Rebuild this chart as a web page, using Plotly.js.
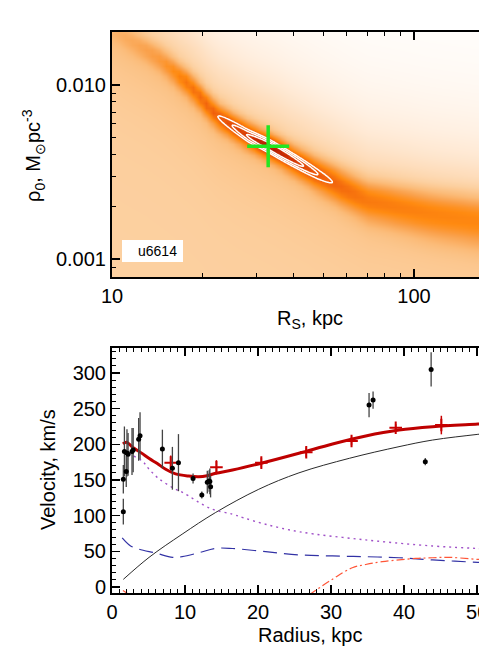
<!DOCTYPE html>
<html>
<head>
<meta charset="utf-8">
<script src="https://cdn.plot.ly/plotly-3.0.1.min.js"></script>
<style>
  html, body { margin: 0; padding: 0; background: #ffffff; overflow: hidden; }
  #chart { width: 520px; height: 664px; }
</style>
</head>
<body>
<div id="chart"></div>
<script>
// ---------------- Top panel: likelihood map (log Rs, log rho0) ----------------
// ridge of the map
const ridgeLogRs  = [1.00, 1.15, 1.25, 1.35, 1.45, 1.52, 1.60, 1.68, 1.84, 2.06, 2.22, 2.34];
const ridgeLogRho = [-1.68, -1.84, -1.99, -2.18, -2.29, -2.35, -2.43, -2.51, -2.66, -2.74, -2.78, -2.80];
const ridgePeak   = [0.48, 0.58, 0.73, 0.80, 0.90, 1.00, 0.90, 0.80, 0.71, 0.68, 0.67, 0.66];
const ridgeWidth  = [0.06, 0.065, 0.07, 0.07, 0.07, 0.07, 0.075, 0.09, 0.11, 0.13, 0.14, 0.14];
const levelBelowRidge = 0.33;
const levelAboveRidge = 0.46;

// best fit and confidence contours
const bestRs  = [32.9];
const bestRho = [0.00446];
const fitLogRs = 1.54;
const fitAlongHalf = 0.095;
const fitAcrossHalf = 0.02;
const contourLevels = [1, 1.5, 2];

const galaxyName = 'u6614';

// ---------------- Bottom panel: rotation curve ----------------
const obsRadius = [1.55, 1.55, 1.7, 1.95, 2.05, 2.2, 2.74, 2.9, 3.65, 3.84, 6.9, 8.27, 9.1, 11.1, 12.3, 13.05, 13.3, 13.4, 13.5, 35.2, 35.75, 42.9, 43.7];
const obsVel    = [105.6, 151, 190, 162, 188, 186, 190, 192, 207, 212, 193.5, 166.4, 174.3, 152, 129, 147, 148.5, 148, 140.6, 255, 262, 175.7, 305];
const obsErr    = [18, 20, 35, 22, 33, 30, 33, 31, 30, 33, 27, 30, 40, 7, 5, 16, 15, 18, 15, 17, 12, 5, 24];

const binRadius = [8.04, 14.3, 20.45, 26.6, 32.8, 38.85, 45.1];
const binVel    = [174.3, 167.8, 174.3, 188.8, 204.7, 223.3, 227];
const binErr    = [10, 10, 7, 7, 6, 5, 13];

const totR = [1.5, 2.0, 2.8, 4.0, 5.1, 6.2, 7.35, 8.7, 10.5, 11.9, 13.0, 14.2, 16.5, 20.45, 25.6, 30.2, 34.75, 39.3, 43.9, 50.1, 54.5];
const totV = [200.5, 203, 196, 188, 180, 173, 165, 158.5, 155.5, 154.7, 156, 159.4, 164, 173.5, 187.4, 200.5, 211.7, 220, 224.7, 228.5, 231];

const haloR = [1.55, 5.07, 9.6, 14.2, 20.1, 25.6, 32.5, 39.3, 43.9, 50.1, 54.5];
const haloV = [10.7, 41.5, 74, 104.5, 137, 160, 180.4, 196.7, 206, 214, 219];

const bulgeR = [1.5, 2.5, 4.2, 5.0, 6.4, 8.7, 9.6, 13.5, 16.5, 18.0, 21.0, 25.6, 34.75, 43.9, 50.1, 54.5];
const bulgeV = [190, 186, 176, 166, 152, 137, 133, 110, 102, 97, 88, 77.5, 66, 57.5, 54, 52];

const diskR = [1.4, 2.5, 3.7, 6.0, 8.3, 9.6, 11.9, 14.2, 16.5, 21.05, 25.6, 30.2, 34.75, 39.3, 43.9, 50.1, 54.5];
const diskV = [69, 58, 53, 47.5, 41.5, 42.5, 48, 54.2, 54, 49.5, 45, 43.5, 42.5, 41, 38, 34.6, 33];

const gasR = [1.5, 2.4, null, 27.0, 30.2, 32.9, 34.75, 37, 41.6, 43.9, 46.2, 50.1, 54.5];
const gasV = [-5, -11, null, -11, 11, 27, 31.5, 35.5, 40, 41, 41.6, 38.7, 37];

// ---------------- helpers ----------------
function interp(xs, ys, x) {
  if (x <= xs[0]) return ys[0];
  for (let i = 1; i < xs.length; i++) {
    if (x <= xs[i]) {
      const t = (x - xs[i - 1]) / (xs[i] - xs[i - 1]);
      return ys[i - 1] + t * (ys[i] - ys[i - 1]);
    }
  }
  return ys[ys.length - 1];
}

// map grid (coarse, like the original)
const mapU = [], mapV = [];
for (let i = 0; i <= 60; i++) mapU.push(1.0 + i * 1.34 / 60);
for (let j = 0; j <= 48; j++) mapV.push(-3.12 + j * 1.44 / 48);
const mapZ = mapV.map(v => mapU.map(u => {
  const d = v - interp(ridgeLogRs, ridgeLogRho, u);
  const A = interp(ridgeLogRs, ridgePeak, u);
  const w = interp(ridgeLogRs, ridgeWidth, u);
  const B = d < 0 ? levelBelowRidge + 0.13 * Math.exp(d / 0.25)
                  : levelAboveRidge * Math.exp(-d / 0.33);
  const g = Math.exp(-(d / w) * (d / w));
  return Math.max(0, Math.min(1, B + (A - B) * g));
}));

// contour field near best fit
const cU = [], cV = [];
for (let i = 0; i <= 120; i++) cU.push(1.28 + i * 0.55 / 120);
for (let j = 0; j <= 140; j++) cV.push(-2.72 + j * 0.70 / 140);
const cZ = cV.map(v => cU.map(u => {
  const d = v - interp(ridgeLogRs, ridgeLogRho, u);
  const a = (u - fitLogRs) / fitAlongHalf;
  const b = d / fitAcrossHalf;
  return Math.sqrt(a * a + b * b);
}));

const FONT = 'Liberation Sans, Arial, Helvetica, sans-serif';
const W = 520, H = 664;
const px = x => x / W, py = y => 1 - y / H;
const xDom = [px(112), px(510)];

const data = [
  {
    type: 'heatmap', xaxis: 'x', yaxis: 'y',
    x: mapU.map(u => Math.pow(10, u)), y: mapV.map(v => Math.pow(10, v)), z: mapZ,
    zmin: 0, zmax: 1, zsmooth: 'best', showscale: false,
    colorscale: [
      [0, '#ffffff'], [0.1, '#fff0e2'], [0.2, '#fee0c2'], [0.33, '#fcd0a0'],
      [0.45, '#fbbb78'], [0.56, '#fa9f48'], [0.66, '#ff8a10'], [0.78, '#f0600c'],
      [0.9, '#d03206'], [1, '#a81200']
    ]
  },
  {
    type: 'contour', xaxis: 'x', yaxis: 'y',
    x: cU.map(u => Math.pow(10, u)), y: cV.map(v => Math.pow(10, v)), z: cZ,
    autocontour: false,
    contours: { start: contourLevels[0], end: contourLevels[contourLevels.length - 1], size: contourLevels[1] - contourLevels[0], coloring: 'none' },
    line: { color: '#ffffff', width: 1.5, smoothing: 1 },
    showscale: false
  },
  {
    type: 'scatter', mode: 'markers', xaxis: 'x', yaxis: 'y',
    x: bestRs, y: bestRho,
    marker: { symbol: 'cross-thin', size: 30, line: { color: '#22e622', width: 3.5 } }
  },
  // bottom panel
  { type: 'scatter', mode: 'lines', xaxis: 'x2', yaxis: 'y2', x: haloR, y: haloV,
    line: { color: '#2a2a2a', width: 1, shape: 'spline' } },
  { type: 'scatter', mode: 'lines', xaxis: 'x2', yaxis: 'y2', x: bulgeR, y: bulgeV,
    line: { color: 'rgb(160,80,200)', width: 1.4, dash: '2px,4px', shape: 'spline' } },
  { type: 'scatter', mode: 'lines', xaxis: 'x2', yaxis: 'y2', x: diskR, y: diskV,
    line: { color: 'rgb(50,50,165)', width: 1.2, dash: '14px,7px', shape: 'spline' } },
  { type: 'scatter', mode: 'lines', xaxis: 'x2', yaxis: 'y2', x: gasR, y: gasV,
    line: { color: 'rgb(255,85,55)', width: 1.2, dash: '8px,3px,2px,3px', shape: 'spline' } },
  { type: 'scatter', mode: 'lines', xaxis: 'x2', yaxis: 'y2', x: totR, y: totV,
    line: { color: 'rgb(190,0,0)', width: 3, shape: 'spline' } },
  { type: 'scatter', mode: 'markers', xaxis: 'x2', yaxis: 'y2', x: binRadius, y: binVel,
    marker: { symbol: 'cross-thin', size: 9, line: { color: 'rgb(200,0,0)', width: 2 } },
    error_y: { type: 'data', array: binErr, color: 'rgb(200,0,0)', thickness: 1.5, width: 0 } },
  { type: 'scatter', mode: 'markers', xaxis: 'x2', yaxis: 'y2', x: obsRadius, y: obsVel,
    marker: { symbol: 'circle', size: 5, color: '#000000' },
    error_y: { type: 'data', array: obsErr, color: '#444444', thickness: 1.3, width: 0 } }
];

const axisCommon = {
  showgrid: false, zeroline: false, showline: true, linecolor: '#000', linewidth: 2,
  mirror: 'allticks', ticks: 'inside', ticklen: 8, tickwidth: 1.5, tickcolor: '#000',
  tickfont: { family: FONT, size: 20, color: '#000' }
};

const layout = {
  width: W, height: H,
  margin: { l: 0, r: 0, t: 0, b: 0 },
  paper_bgcolor: '#ffffff', plot_bgcolor: '#ffffff',
  showlegend: false,
  font: { family: FONT, color: '#000' },
  xaxis: Object.assign({}, axisCommon, {
    domain: xDom, anchor: 'y', type: 'log', range: [1, 2.318],
    tickmode: 'array', tickvals: [10, 100], ticktext: ['10', '100'],
    minor: { tickmode: 'array', tickvals: [20, 30, 40, 50, 60, 70, 80, 90, 200], ticks: 'inside', ticklen: 4, tickwidth: 1, tickcolor: '#000' }
  }),
  yaxis: Object.assign({}, axisCommon, {
    domain: [py(277), py(32)], anchor: 'x', type: 'log', range: [-3.102, -1.695],
    tickmode: 'array', tickvals: [0.001, 0.01], ticktext: ['0.001', '0.010'],
    minor: { tickmode: 'array', tickvals: [0.0008, 0.0009, 0.002, 0.003, 0.004, 0.005, 0.006, 0.007, 0.008, 0.009, 0.02], ticks: 'inside', ticklen: 4, tickwidth: 1, tickcolor: '#000' }
  }),
  xaxis2: Object.assign({}, axisCommon, {
    domain: xDom, anchor: 'y2', range: [0, 54.5],
    tickmode: 'linear', tick0: 0, dtick: 10,
    minor: { tickmode: 'linear', tick0: 0, dtick: 1, ticks: 'inside', ticklen: 4, tickwidth: 1, tickcolor: '#000' }
  }),
  yaxis2: Object.assign({}, axisCommon, {
    domain: [py(593), py(348)], anchor: 'x2', range: [-8.4, 335],
    tickmode: 'linear', tick0: 0, dtick: 50,
    minor: { tickmode: 'linear', tick0: 0, dtick: 10, ticks: 'inside', ticklen: 4, tickwidth: 1, tickcolor: '#000' }
  }),
  shapes: [
    { type: 'rect', xref: 'paper', yref: 'paper', x0: px(122), x1: px(183), y0: py(262), y1: py(240),
      fillcolor: '#ffffff', line: { width: 0 }, layer: 'above' }
  ],
  annotations: [
    { xref: 'paper', yref: 'paper', x: px(157), y: py(251), text: galaxyName, showarrow: false,
      xanchor: 'center', yanchor: 'middle', font: { family: FONT, size: 14, color: '#000' } },
    { xref: 'paper', yref: 'paper', x: px(33), y: py(156), textangle: -90,
      text: 'ρ<sub>0</sub>, M<sub>⊙</sub>pc<sup>-3</sup>', showarrow: false,
      xanchor: 'center', yanchor: 'middle', font: { family: FONT, size: 20, color: '#000' } },
    { xref: 'paper', yref: 'paper', x: px(310), y: py(319),
      text: 'R<sub>S</sub>, kpc', showarrow: false,
      xanchor: 'center', yanchor: 'middle', font: { family: FONT, size: 20, color: '#000' } },
    { xref: 'paper', yref: 'paper', x: px(48), y: py(470), textangle: -90,
      text: 'Velocity, km/s', showarrow: false,
      xanchor: 'center', yanchor: 'middle', font: { family: FONT, size: 20, color: '#000' } },
    { xref: 'paper', yref: 'paper', x: px(310), y: py(635),
      text: 'Radius, kpc', showarrow: false,
      xanchor: 'center', yanchor: 'middle', font: { family: FONT, size: 20, color: '#000' } }
  ]
};

Plotly.newPlot('chart', data, layout, { staticPlot: true, displayModeBar: false });
</script>
</body>
</html>
